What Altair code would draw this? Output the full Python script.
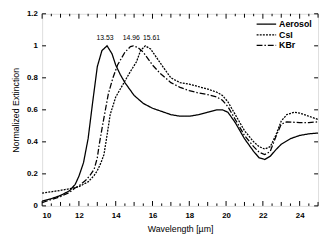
import altair as alt
import pandas as pd

# ---- data ----
aerosol_x = [10, 10.5, 11, 11.5, 11.8, 12, 12.25, 12.5, 12.75, 13, 13.25, 13.53, 13.8, 14, 14.25, 14.5,
             15, 15.5, 16, 16.5, 17, 17.5, 18, 18.5, 19, 19.5, 19.8, 20.1, 20.5, 21, 21.5, 21.8,
             22.1, 22.4, 22.7, 23, 23.5, 24, 24.5, 25]
aerosol_y = [0.03, 0.045, 0.065, 0.095, 0.135, 0.185, 0.27, 0.42, 0.65, 0.87, 0.97, 1.0, 0.95, 0.88, 0.82, 0.77,
             0.69, 0.64, 0.61, 0.59, 0.57, 0.56, 0.56, 0.57, 0.585, 0.6, 0.6, 0.585, 0.52, 0.42, 0.34, 0.30,
             0.29, 0.31, 0.35, 0.385, 0.42, 0.44, 0.45, 0.455]

csi_x = [10, 10.5, 11, 11.5, 12, 12.5, 12.83, 13, 13.2, 13.36, 13.5, 13.7, 14, 14.25, 14.5, 14.8, 15.13,
         15.35, 15.61, 15.9, 16.2, 16.5, 17, 17.5, 18, 18.5, 19, 19.5, 19.8, 20.1, 20.5, 21, 21.5,
         21.8, 22.1, 22.4, 22.7, 23, 23.3, 23.7, 24, 24.5, 25]
csi_y = [0.08, 0.088, 0.097, 0.107, 0.12, 0.15, 0.19, 0.22, 0.27, 0.32, 0.42, 0.57, 0.68, 0.73, 0.78, 0.84, 0.90,
         0.97, 1.0, 0.98, 0.93, 0.88, 0.80, 0.77, 0.76, 0.745, 0.73, 0.71, 0.69, 0.65, 0.57, 0.47, 0.40,
         0.37, 0.355, 0.37, 0.44, 0.53, 0.57, 0.585, 0.58, 0.56, 0.54]

kbr_x = [10, 10.5, 11, 11.5, 11.77, 12, 12.37, 12.6, 12.83, 13, 13.1, 13.25, 13.36, 13.6, 13.85, 14.1, 14.5,
         14.8, 14.96, 15.2, 15.5, 16, 16.4, 17, 17.5, 18, 18.5, 19, 19.5, 19.8, 20.1, 20.5, 21, 21.5,
         21.8, 22.1, 22.4, 22.7, 23, 23.3, 24, 24.5, 25]
kbr_y = [0.02, 0.04, 0.058, 0.085, 0.11, 0.125, 0.16, 0.19, 0.23, 0.30, 0.38, 0.48, 0.55, 0.70, 0.80, 0.88, 0.96,
         0.995, 1.0, 0.99, 0.96, 0.88, 0.83, 0.77, 0.74, 0.72, 0.705, 0.695, 0.68, 0.66, 0.62, 0.54, 0.44, 0.37,
         0.335, 0.32, 0.34, 0.43, 0.51, 0.525, 0.52, 0.52, 0.525]

series = ["Aerosol", "CsI", "KBr"]

peak_labels = ["13.53", "14.96", "15.61"]
peak_label_x = [13.42, 14.85, 15.95]
peak_label_y = [1.05, 1.05, 1.05]

x_label_values = [10, 12, 14, 16, 18, 20, 22, 24]
x_ticks_even = [10, 12, 14, 16, 18, 20, 22, 24]
x_ticks_odd = [11, 13, 15, 17, 19, 21, 23, 25]
x_ticks_half = [10.5, 11.5, 12.5, 13.5, 14.5, 15.5, 16.5, 17.5, 18.5, 19.5, 20.5, 21.5, 22.5, 23.5, 24.5]
y_tick_values = [0, 0.2, 0.4, 0.6, 0.8, 1.0, 1.2]

# ---- tables ----
rows = []
for name, xs, ys in [("Aerosol", aerosol_x, aerosol_y), ("CsI", csi_x, csi_y), ("KBr", kbr_x, kbr_y)]:
    for i, (a, b) in enumerate(zip(xs, ys)):
        rows.append({"series": name, "x": a, "y": b, "order": i})
df = pd.DataFrame(rows)
labels_df = pd.DataFrame({"label": peak_labels, "x": peak_label_x, "y": peak_label_y})

W, H = 283, 197
FONT = "Liberation Sans"

xscale = alt.Scale(domain=[10, 25], nice=False, zero=False)
yscale = alt.Scale(domain=[0, 1.2], nice=False)

x_axis = alt.Axis(values=x_label_values, ticks=False, domain=False, grid=False,
                  labelFontWeight="bold", labelFontSize=8, labelPadding=6, labelOverlap=False,
                  titleFontSize=9, titleFontWeight="normal", titlePadding=5)
y_axis = alt.Axis(values=y_tick_values, ticks=False, domain=False, grid=False,
                  labelExpr="format(datum.value, '~g')", labelOverlap=False,
                  labelFontWeight="bold", labelFontSize=8, labelPadding=5,
                  titleFontSize=9, titleFontWeight="normal", titlePadding=6)
XT = "Wavelength [µm]"
YT = "Normalized Extinction"


def X(field):
    return alt.X(field, scale=xscale, axis=x_axis, title=XT)


def Y(field):
    return alt.Y(field, scale=yscale, axis=y_axis, title=YT)


lines = alt.Chart(df).mark_line(color="black", strokeWidth=1.3).encode(
    x=X("x:Q"),
    y=Y("y:Q"),
    strokeDash=alt.StrokeDash("series:N",
                              scale=alt.Scale(domain=series, range=[[1, 0], [2, 1.2], [6, 2, 1.5, 2]]),
                              legend=alt.Legend(title=None, orient="none", legendX=219, legendY=5,
                                                symbolType="stroke", symbolSize=400, symbolStrokeWidth=1.3,
                                                symbolStrokeColor="black", clipHeight=11, padding=0,
                                                labelFontSize=9, labelFontWeight="bold", labelOffset=2,
                                                rowPadding=0)),
    order="order:Q",
)

texts = alt.Chart(labels_df).mark_text(fontSize=7, font=FONT, color="black", baseline="middle").encode(
    x=X("x:Q"), y=Y("y:Q"), text="label:N")


def xticks(vals, length):
    d = pd.DataFrame({"v": vals})
    bottom = alt.Chart(d).mark_rule(color="black", strokeWidth=1).encode(
        x=X("v:Q"), y=alt.value(H), y2=alt.value(H - length))
    top = alt.Chart(d).mark_rule(color="black", strokeWidth=1).encode(
        x=X("v:Q"), y=alt.value(0), y2=alt.value(length))
    return [bottom, top]


yd = pd.DataFrame({"v": y_tick_values})
left_ticks = alt.Chart(yd).mark_rule(color="black", strokeWidth=1).encode(
    y=Y("v:Q"), x=alt.value(0), x2=alt.value(4))
right_ticks = alt.Chart(yd).mark_rule(color="black", strokeWidth=1).encode(
    y=Y("v:Q"), x=alt.value(W), x2=alt.value(W - 4))

layers = [lines, texts, left_ticks, right_ticks]
layers += xticks(x_ticks_even, 5)
layers += xticks(x_ticks_odd, 4)
layers += xticks(x_ticks_half, 2.5)

chart = alt.layer(*layers).properties(
    width=W, height=H,
    autosize=alt.AutoSizeParams(type="none"),
    padding={"left": 35, "top": 3, "right": 2, "bottom": 30},
).configure_view(stroke="black", strokeWidth=1).configure(
    font=FONT
).configure_axis(labelColor="black", titleColor="black", labelFont=FONT, titleFont=FONT
).configure_legend(labelColor="black", labelFont=FONT)

chart.save("out.html", embed_options={"renderer": "svg", "actions": False})
